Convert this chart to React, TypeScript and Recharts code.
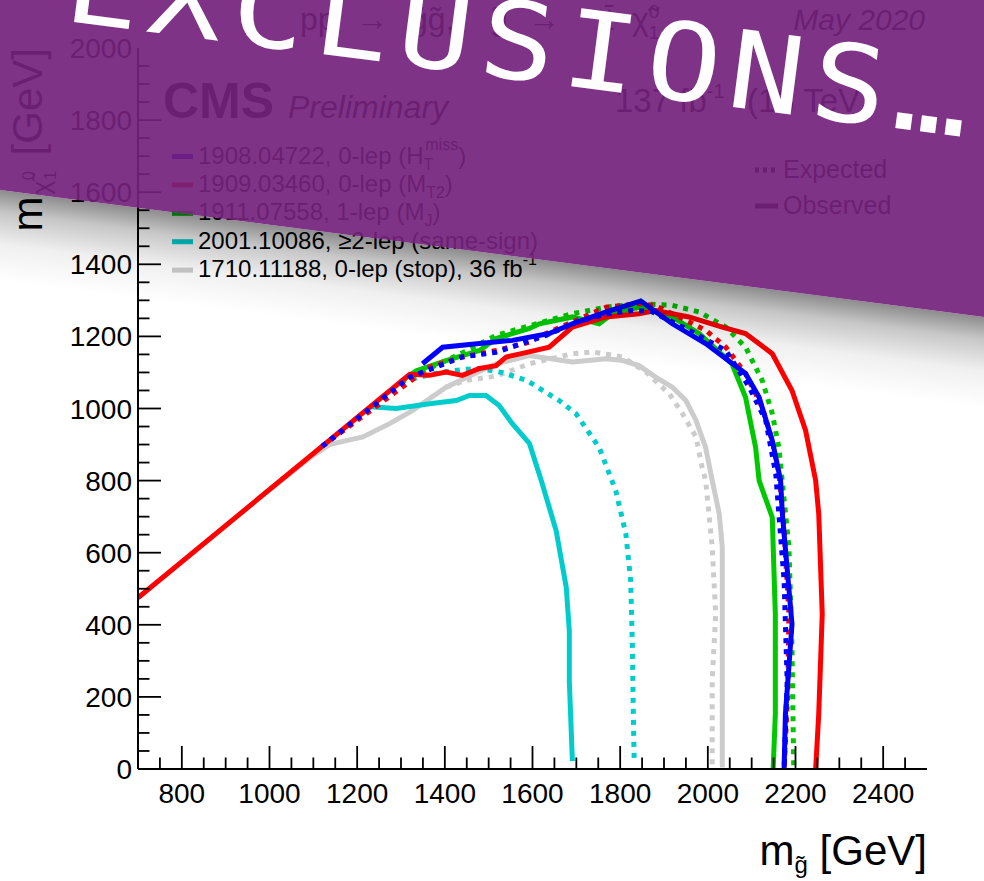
import { LineChart, Line, XAxis, YAxis } from 'recharts'

// gluino / LSP mass points (GeV) along each exclusion contour
const mtObs: [number, number][] = [
  [700, 475], [1320, 1095], [1365, 1092], [1403, 1101], [1440, 1092], [1479, 1111], [1517, 1119],
  [1540, 1143], [1577, 1153], [1638, 1170], [1691, 1226], [1768, 1254], [1843, 1263], [1881, 1272],
  [1957, 1254], [2033, 1226], [2086, 1208], [2147, 1152], [2192, 1050], [2223, 939], [2246, 800],
  [2253, 708], [2261, 430], [2253, 152], [2246, 0],
]
const mtExp: [number, number][] = [
  [1120, 895], [1365, 1115], [1440, 1143], [1517, 1161], [1593, 1184], [1616, 1200], [1768, 1281],
  [1843, 1291], [1880, 1285], [1935, 1254], [1995, 1217], [2041, 1170], [2086, 1097], [2124, 1004],
  [2147, 911], [2162, 819], [2172, 700], [2185, 430], [2182, 200], [2174, 0],
]
const htObs: [number, number][] = [
  [1349, 1124], [1395, 1170], [1479, 1180], [1554, 1189], [1638, 1208], [1691, 1235], [1768, 1268],
  [1847, 1298], [1919, 1235], [1995, 1180], [2086, 1097], [2117, 1031], [2147, 911], [2166, 800],
  [2170, 708], [2192, 402], [2177, 152], [2174, 0],
]
const htExp: [number, number][] = [
  [1120, 895], [1320, 1087], [1440, 1143], [1517, 1156], [1631, 1203], [1700, 1240], [1768, 1262],
  [1828, 1272], [1870, 1270], [1957, 1217], [2041, 1161], [2094, 1060], [2132, 967], [2155, 819],
  [2162, 708], [2174, 522], [2181, 244], [2174, 0],
]
const mjObs: [number, number][] = [
  [1300, 1075], [1335, 1105], [1403, 1133], [1479, 1161], [1517, 1194], [1593, 1222], [1616, 1235],
  [1691, 1254], [1752, 1235], [1782, 1263], [1843, 1281], [1919, 1254], [1980, 1208], [2055, 1124],
  [2086, 1031], [2109, 892], [2117, 800], [2147, 698], [2154, 430], [2154, 152], [2149, 0],
]
const mjExp: [number, number][] = [
  [1300, 1075], [1450, 1160], [1517, 1203], [1638, 1245], [1691, 1263], [1768, 1281], [1843, 1291],
  [1919, 1286], [1980, 1268], [2041, 1226], [2086, 1170], [2124, 1078], [2147, 986], [2162, 892],
  [2185, 615], [2192, 337], [2196, 4],
]
const ssObs: [number, number][] = [
  [1230, 1005], [1289, 1000], [1365, 1013], [1426, 1022], [1456, 1036], [1494, 1036], [1524, 1008],
  [1554, 958], [1593, 903], [1620, 800], [1654, 661], [1677, 504], [1684, 383], [1684, 244], [1691, 22],
]
const ssExp: [number, number][] = [
  [1300, 1075], [1388, 1100], [1440, 1108], [1479, 1111], [1530, 1100], [1587, 1078], [1623, 1050],
  [1661, 1022], [1699, 986], [1752, 892], [1790, 772], [1813, 652], [1824, 522], [1828, 337],
  [1830, 152], [1832, 22],
]
const stopObs: [number, number][] = [
  [990, 765], [1100, 870], [1137, 900], [1175, 911], [1213, 921], [1274, 958], [1326, 994],
  [1403, 1059], [1448, 1085], [1517, 1124], [1593, 1147], [1691, 1129], [1768, 1138], [1806, 1133],
  [1843, 1119], [1881, 1087], [1919, 1059], [1950, 1022], [1973, 967], [1995, 892], [2010, 800],
  [2026, 708], [2033, 615], [2033, 4],
]
const stopExp: [number, number][] = [
  [1403, 1059], [1448, 1078], [1517, 1090], [1593, 1124], [1691, 1152], [1737, 1157], [1805, 1143],
  [1860, 1100], [1912, 1041], [1942, 986], [1973, 921], [1987, 837], [1995, 800], [2010, 615],
  [2018, 430], [2010, 244], [2010, 4],
]

const xLabels = [800, 1000, 1200, 1400, 1600, 1800, 2000, 2200, 2400]
const yLabels = [0, 200, 400, 600, 800, 1000, 1200, 1400, 1600, 1800, 2000]

const BLUE = '#0000ff'
const RED = '#ff0000'
const GREEN = '#00c800'
const CYAN = '#00cccc'
const GRAY = '#cccccc'

const FONT = '"Liberation Sans", Arial, Helvetica, sans-serif'

// minor ticks every 50 GeV, labels only on the 200s
const stepTicks = (lo: number, hi: number) => {
  const out: number[] = []
  for (let v = lo; v <= hi; v += 50) out.push(v)
  return out
}
const xTicks = stepTicks(700, 2500)
const yTicks = stepTicks(0, 2000)

const pts = (a: [number, number][]) => a.map(([x, y]) => ({ x, y }))

const MAJOR = 23
const MINOR = 11.5

function BottomTick({ x, y, payload }: any) {
  const v = payload.value
  const major = v % 200 === 0
  if (v === 700 || v === 2500) return <g />
  return (
    <g>
      <line x1={x} y1={y} x2={x} y2={y - (major ? MAJOR : MINOR)} stroke="#000" strokeWidth={1.8} />
      {xLabels.includes(v) && (
        <text x={x} y={y + 34} textAnchor="middle" fontSize={28} fontFamily={FONT} fill="#000">{v}</text>
      )}
    </g>
  )
}

function TopTick({ x, y, payload }: any) {
  const v = payload.value
  if (v === 700 || v === 2500) return <g />
  const major = v % 200 === 0
  return <line x1={x} y1={y} x2={x} y2={y + (major ? MAJOR : MINOR)} stroke="#000" strokeWidth={1.8} />
}

function LeftTick({ x, y, payload }: any) {
  const v = payload.value
  const major = v % 200 === 0
  return (
    <g>
      {v !== 0 && v !== 2000 && (
        <line x1={x} y1={y} x2={x + (major ? MAJOR : MINOR)} y2={y} stroke="#000" strokeWidth={1.8} />
      )}
      {yLabels.includes(v) && (
        <text x={x - 6} y={y + 10} textAnchor="end" fontSize={28} fontFamily={FONT} fill="#000">{v}</text>
      )}
    </g>
  )
}

function RightTick({ x, y, payload }: any) {
  const v = payload.value
  if (v === 0 || v === 2000) return <g />
  const major = v % 200 === 0
  return <line x1={x} y1={y} x2={x - (major ? MAJOR : MINOR)} y2={y} stroke="#000" strokeWidth={1.8} />
}

const legendRows = [
  { color: BLUE, id: '1908.04722, 0-lep (H', sub: 'T', sup: 'miss', tail: ')' },
  { color: RED, id: '1909.03460, 0-lep (M', sub: 'T2', sup: '', tail: ')' },
  { color: GREEN, id: '1911.07558, 1-lep (M', sub: 'J', sup: '', tail: ')' },
  { color: CYAN, id: '2001.10086, \u22652-lep (same-sign)', sub: '', sup: '', tail: '' },
  { color: GRAY, id: '1710.11188, 0-lep (stop), 36 fb', sub: '', sup: '-1', tail: '' },
]

const DASH = '5 6'
const W = 5

export default function App() {
  return (
    <div style={{ position: 'absolute', left: 0, top: 0, width: 984, height: 881, background: '#fff', overflow: 'hidden' }}>
      <LineChart width={984} height={881} margin={{ top: 48, right: 57, left: 0, bottom: 0 }}>
        <XAxis
          xAxisId="b" dataKey="x" type="number" domain={[700, 2500]} ticks={xTicks} interval={0}
          height={112} tickSize={0} tickMargin={0} tickLine={false}
          axisLine={{ stroke: '#000', strokeWidth: 2 }} tick={<BottomTick />} allowDataOverflow
        />
        <XAxis
          xAxisId="t" orientation="top" dataKey="x" type="number" domain={[700, 2500]} ticks={xTicks} interval={0}
          height={0} tickSize={0} tickMargin={0} tickLine={false}
          axisLine={{ stroke: '#000', strokeWidth: 2 }} tick={<TopTick />}
        />
        <YAxis
          yAxisId="l" type="number" domain={[0, 2000]} ticks={yTicks} interval={0}
          width={138} tickSize={0} tickMargin={0} tickLine={false}
          axisLine={{ stroke: '#000', strokeWidth: 2 }} tick={<LeftTick />} allowDataOverflow
        />
        <YAxis
          yAxisId="r" orientation="right" type="number" domain={[0, 2000]} ticks={yTicks} interval={0}
          width={0} tickSize={0} tickMargin={0} tickLine={false}
          axisLine={{ stroke: '#000', strokeWidth: 2 }} tick={<RightTick />}
        />
        <Line xAxisId="b" yAxisId="l" data={pts(stopExp)} dataKey="y" stroke={GRAY} strokeWidth={W} strokeDasharray={DASH} dot={false} activeDot={false} isAnimationActive={false} />
        <Line xAxisId="b" yAxisId="l" data={pts(stopObs)} dataKey="y" stroke={GRAY} strokeWidth={W} dot={false} activeDot={false} isAnimationActive={false} />
        <Line xAxisId="b" yAxisId="l" data={pts(ssExp)} dataKey="y" stroke={CYAN} strokeWidth={W} strokeDasharray={DASH} dot={false} activeDot={false} isAnimationActive={false} />
        <Line xAxisId="b" yAxisId="l" data={pts(ssObs)} dataKey="y" stroke={CYAN} strokeWidth={W} dot={false} activeDot={false} isAnimationActive={false} />
        <Line xAxisId="b" yAxisId="l" data={pts(mjObs)} dataKey="y" stroke={GREEN} strokeWidth={W} dot={false} activeDot={false} isAnimationActive={false} />
        <Line xAxisId="b" yAxisId="l" data={pts(mjExp)} dataKey="y" stroke={GREEN} strokeWidth={W} strokeDasharray={DASH} dot={false} activeDot={false} isAnimationActive={false} />
        <Line xAxisId="b" yAxisId="l" data={pts(mtObs)} dataKey="y" stroke={RED} strokeWidth={W} dot={false} activeDot={false} isAnimationActive={false} />
        <Line xAxisId="b" yAxisId="l" data={pts(mtExp)} dataKey="y" stroke={RED} strokeWidth={W} strokeDasharray={DASH} dot={false} activeDot={false} isAnimationActive={false} />
        <Line xAxisId="b" yAxisId="l" data={pts(htObs)} dataKey="y" stroke={BLUE} strokeWidth={W} dot={false} activeDot={false} isAnimationActive={false} />
        <Line xAxisId="b" yAxisId="l" data={pts(htExp)} dataKey="y" stroke={BLUE} strokeWidth={W} strokeDasharray={DASH} dot={false} activeDot={false} isAnimationActive={false} />
      </LineChart>

      <svg width={984} height={881} style={{ position: 'absolute', left: 0, top: 0, pointerEvents: 'none' }}>
        <g fontFamily={FONT} fill="#000">
          {/* process and date */}
          <text y={30} fontSize={32}>
            <tspan x={300}>pp</tspan>
            <tspan x={356}>{'\u2192'}</tspan>
            <tspan x={410}>g{'\u0303'}g{'\u0303'},</tspan>
            <tspan x={490}>g{'\u0303'}</tspan>
            <tspan x={528}>{'\u2192'}</tspan>
            <tspan x={596}>tt{'\u0304'}</tspan>
            <tspan x={632}>{'\u03c7\u0303'}</tspan>
            <tspan fontSize={19} dy={-12}>0</tspan>
            <tspan fontSize={19} dx={-11} dy={21}>1</tspan>
          </text>
          <text x={925} y={30} fontSize={30} fontStyle="italic" textAnchor="end">May 2020</text>

          <text x={163} y={118} fontSize={50} fontWeight="bold">CMS</text>
          <text x={288} y={118} fontSize={32} fontStyle="italic">Preliminary</text>
          <text y={112} fontSize={33}>
            <tspan x={615}>137 fb</tspan>
            <tspan fontSize={20} dy={-14}>-1</tspan>
            <tspan x={747} dy={14}>(13 TeV)</tspan>
          </text>

          {legendRows.map((r, i) => {
            const base = 163.5 + i * 28.4
            return (
              <g key={r.id}>
                <line x1={172} x2={193} y1={base - 7} y2={base - 7} stroke={r.color} strokeWidth={5} />
                <text x={198} y={base} fontSize={24}>
                  {r.id}
                  {r.sub && <tspan fontSize={16} dy={6}>{r.sub}</tspan>}
                  {r.sup && (
                    <tspan fontSize={16} dx={r.sub ? -8 : 0} dy={r.sub ? -20 : -12}>{r.sup}</tspan>
                  )}
                  {r.tail && <tspan fontSize={24} dy={r.sup ? 14 : -6}>{r.tail}</tspan>}
                </text>
              </g>
            )
          })}

          <line x1={755} x2={778} y1={170} y2={170} stroke="#000" strokeWidth={5} strokeDasharray="4 4" />
          <text x={783} y={178} fontSize={25}>Expected</text>
          <line x1={755} x2={778} y1={206} y2={206} stroke="#000" strokeWidth={5} />
          <text x={783} y={214} fontSize={25}>Observed</text>

          <text x={927} y={865} fontSize={42} textAnchor="end">
            m<tspan fontSize={24} dy={8}>g{'\u0303'}</tspan>
            <tspan fontSize={42} dy={-8}> [GeV]</tspan>
          </text>
          <text x={42} y={48} fontSize={42} textAnchor="end" transform="rotate(-90 42 48)">
            m<tspan fontSize={26} dx={2} dy={8}>{'\u03c7\u0303'}</tspan>
            <tspan fontSize={16} dx={1} dy={-16}>0</tspan>
            <tspan fontSize={16} dx={-9} dy={22}>1</tspan>
            <tspan fontSize={42} dx={4} dy={-14}> [GeV]</tspan>
          </text>
        </g>

        <defs>
          <linearGradient id="shade" x1="0" y1="0" x2="0" y2="1">
            <stop offset="0" stopColor="#000" stopOpacity={0.45} />
            <stop offset="0.25" stopColor="#000" stopOpacity={0.22} />
            <stop offset="0.6" stopColor="#000" stopOpacity={0.06} />
            <stop offset="1" stopColor="#000" stopOpacity={0} />
          </linearGradient>
        </defs>
        {/* tilted banner over the upper part of the plot */}
        <g transform="translate(0 190) rotate(7.35)">
          <rect x={-200} y={0} width={1500} height={90} fill="url(#shade)" />
          <rect x={-200} y={-600} width={1500} height={600} fill="#74227c" fillOpacity={0.92} />
          <text
            transform="translate(40 -176) scale(1.15 1)"
            fontFamily='"DejaVu Sans Mono", monospace' fontSize={108} letterSpacing={7.6} fill="#fff"
          >
            EXCLUSIONS{'\u2026'}
          </text>
        </g>
      </svg>
    </div>
  )
}
